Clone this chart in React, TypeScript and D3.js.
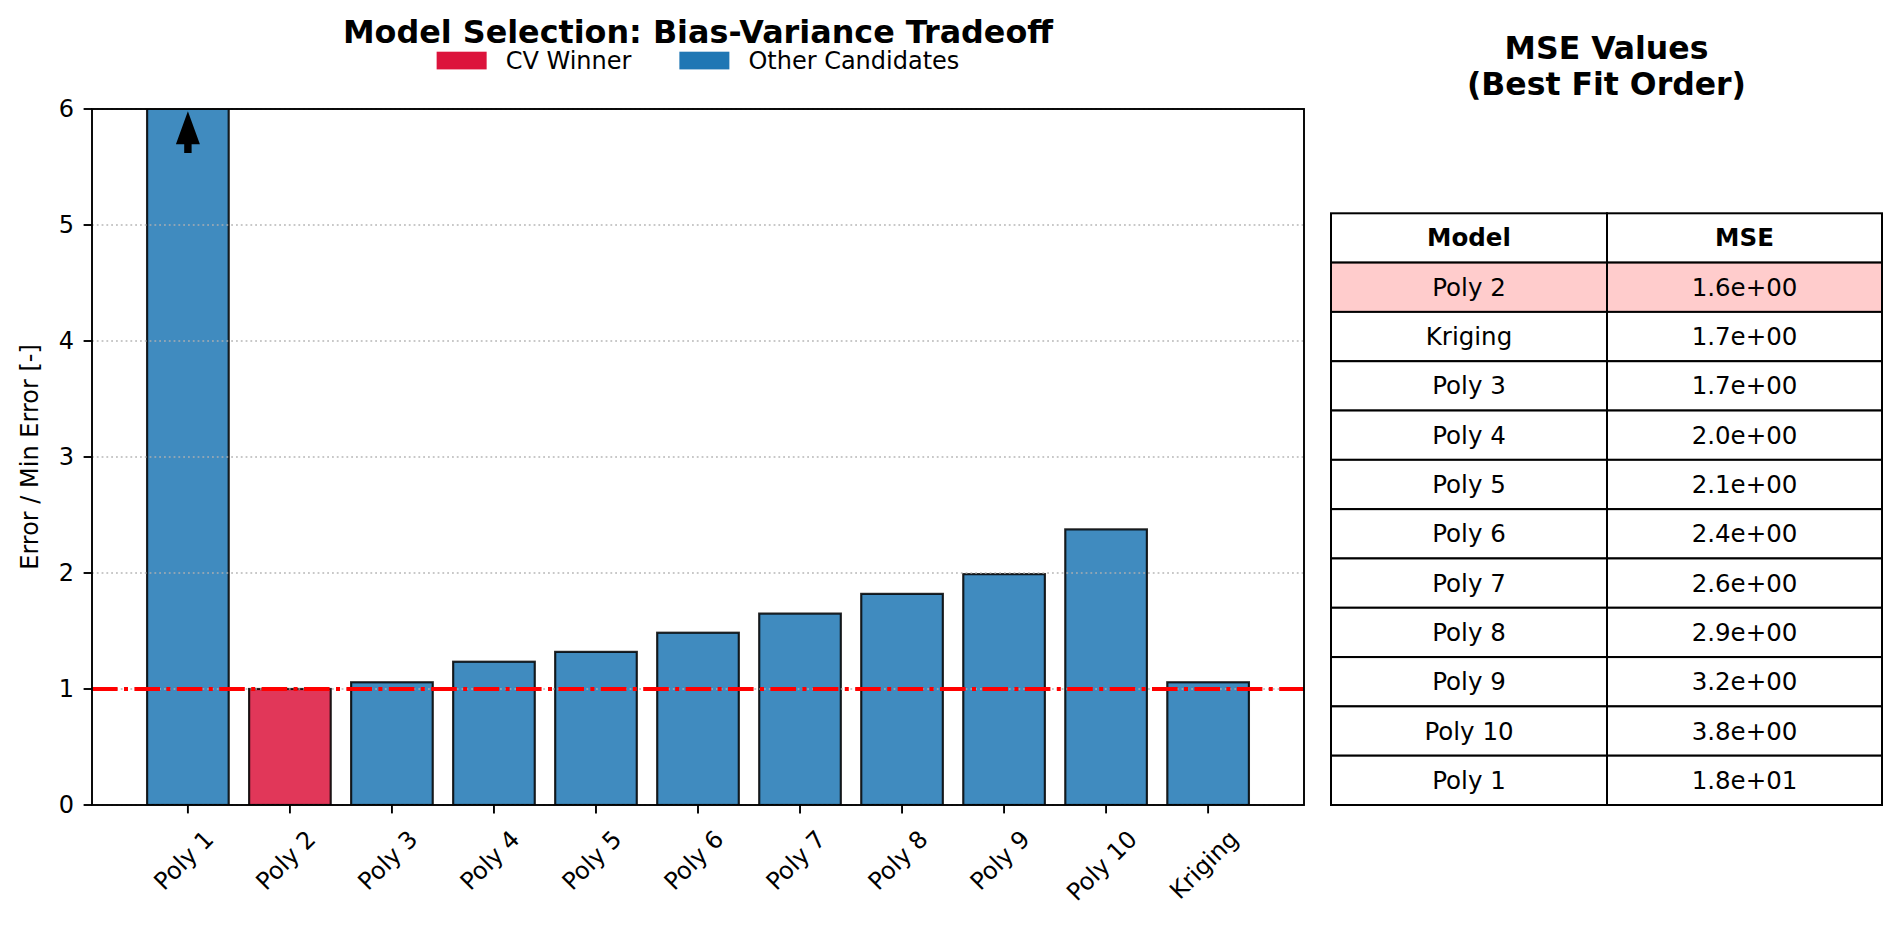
import React, { useEffect, useRef } from "react";
import * as d3 from "d3";

// bar chart: error of each candidate divided by the smallest error
const models = ["Poly 1", "Poly 2", "Poly 3", "Poly 4", "Poly 5", "Poly 6", "Poly 7", "Poly 8", "Poly 9", "Poly 10", "Kriging"];
const errorRatio = [11.25, 1.0, 1.058, 1.235, 1.32, 1.485, 1.65, 1.82, 1.99, 2.376, 1.058];
const winner = "Poly 2";
const yTicks = [0, 1, 2, 3, 4, 5, 6];
const legendLabels = ["CV Winner", "Other Candidates"];
const arrowFrom = 5.6;
const arrowTo = 6.0;

// table on the right, sorted by best fit
const tableHeader = ["Model", "MSE"];
const tableModels = ["Poly 2", "Kriging", "Poly 3", "Poly 4", "Poly 5", "Poly 6", "Poly 7", "Poly 8", "Poly 9", "Poly 10", "Poly 1"];
const tableMse = ["1.6e+00", "1.7e+00", "1.7e+00", "2.0e+00", "2.1e+00", "2.4e+00", "2.6e+00", "2.9e+00", "3.2e+00", "3.8e+00", "1.8e+01"];

const W = 1900;
const H = 930;
const FONT = "'DejaVu Sans', sans-serif";
const RED = "#dc143c";
const BLUE = "#1f77b4";

const App: React.FC = () => {
  const svgRef = useRef<SVGSVGElement | null>(null);

  useEffect(() => {
    if (!svgRef.current) return;
    document.body.style.margin = "0";
    const svg = d3.select(svgRef.current);
    svg.selectAll("*").remove();

    const L = 92, R = 1304, T = 109, B = 805;
    const x = d3.scaleBand<string>().domain(models).range([L, R]).paddingInner(0.2).paddingOuter(0.54);
    const y = d3.scaleLinear().domain([0, 6]).range([B, T]);
    const bw = x.bandwidth();
    const cx = (m: string) => x(m)! + bw / 2;

    svg.append("rect").attr("width", W).attr("height", H).attr("fill", "#fff");

    svg.append("defs").append("clipPath").attr("id", "plot-clip")
      .append("rect").attr("x", L).attr("y", T).attr("width", R - L).attr("height", B - T);

    // bars
    svg.append("g").attr("clip-path", "url(#plot-clip)")
      .selectAll("rect")
      .data(models)
      .join("rect")
      .attr("x", d => x(d)!)
      .attr("width", bw)
      .attr("y", (d, i) => y(errorRatio[i]))
      .attr("height", (d, i) => y(0) - y(errorRatio[i]))
      .attr("fill", d => (d === winner ? RED : BLUE))
      .attr("fill-opacity", 0.85)
      .attr("stroke", "#000")
      .attr("stroke-opacity", 0.85)
      .attr("stroke-width", 2.2);

    // grid sits above the bars, as in matplotlib
    svg.append("g")
      .selectAll("line")
      .data(yTicks)
      .join("line")
      .attr("x1", L).attr("x2", R)
      .attr("y1", d => y(d)).attr("y2", d => y(d))
      .attr("stroke", "#b0b0b0")
      .attr("stroke-opacity", 0.7)
      .attr("stroke-width", 1.8)
      .attr("stroke-dasharray", "1.8,3");

    // reference line at 1
    svg.append("line")
      .attr("x1", L).attr("x2", R)
      .attr("y1", y(1)).attr("y2", y(1))
      .attr("stroke", "#ff0000")
      .attr("stroke-width", 4)
      .attr("stroke-dasharray", "25.6,6.4,4,6.4");

    // frame
    svg.append("rect")
      .attr("x", L).attr("y", T).attr("width", R - L).attr("height", B - T)
      .attr("fill", "none").attr("stroke", "#000").attr("stroke-width", 1.9);

    // arrow for the clipped bar
    const ax = cx(models[0]);
    const shrink = (y(arrowFrom) - y(arrowTo)) * 0.05;
    const tip = y(arrowTo) + shrink;
    const tail = y(arrowFrom) - shrink;
    const headBase = tip + 33;
    svg.append("path")
      .attr("d", [
        [ax, tip], [ax + 12, headBase], [ax + 3.7, headBase], [ax + 3.7, tail],
        [ax - 3.7, tail], [ax - 3.7, headBase], [ax - 12, headBase],
      ].map((p, i) => `${i ? "L" : "M"}${p[0]},${p[1]}`).join("") + "Z")
      .attr("fill", "#000");

    // ticks
    svg.append("g").selectAll("line").data(models).join("line")
      .attr("x1", d => cx(d)).attr("x2", d => cx(d))
      .attr("y1", B).attr("y2", B + 8.4)
      .attr("stroke", "#000").attr("stroke-width", 1.9);
    svg.append("g").selectAll("line").data(yTicks).join("line")
      .attr("x1", L - 8.4).attr("x2", L)
      .attr("y1", d => y(d)).attr("y2", d => y(d))
      .attr("stroke", "#000").attr("stroke-width", 1.9);

    svg.append("g")
      .attr("font-family", FONT).attr("font-size", 24).attr("text-anchor", "end")
      .selectAll("text").data(yTicks).join("text")
      .attr("x", L - 18)
      .attr("y", d => y(d))
      .attr("dominant-baseline", "central")
      .text(d => String(d));

    // rotated x labels, centred under the tick
    const xl = svg.append("g")
      .attr("font-family", FONT).attr("font-size", 24).attr("text-anchor", "middle")
      .selectAll<SVGTextElement, string>("text").data(models).join("text")
      .attr("dominant-baseline", "central")
      .text(d => d);
    xl.each(function (d) {
      const w = this.getComputedTextLength();
      const h = 24 * 1.17;
      const cy = B + 20 + (w + h) / (2 * Math.SQRT2);
      d3.select(this).attr("transform", `translate(${cx(d) - 4},${cy}) rotate(-45)`);
    });

    svg.append("text")
      .attr("font-family", FONT).attr("font-size", 24).attr("text-anchor", "middle")
      .attr("transform", `translate(38,${(T + B) / 2}) rotate(-90)`)
      .text("Error / Min Error [-]");

    // title
    svg.append("text")
      .attr("font-family", FONT).attr("font-size", 31.8).attr("font-weight", "bold")
      .attr("text-anchor", "middle")
      .attr("x", (L + R) / 2).attr("y", 42.5)
      .text("Model Selection: Bias-Variance Tradeoff");

    // legend
    const lg = svg.append("g").attr("font-family", FONT).attr("font-size", 24);
    const handleW = 50, handleH = 17.7, textPad = 19, colGap = 48;
    const widths: number[] = [];
    const items = legendLabels.map((label, i) => {
      const g = lg.append("g");
      g.append("rect").attr("width", handleW).attr("height", handleH)
        .attr("y", 51.7).attr("fill", i === 0 ? RED : BLUE);
      const t = g.append("text").attr("x", handleW + textPad).attr("y", 69).text(label);
      widths.push(handleW + textPad + (t.node() as SVGTextElement).getComputedTextLength());
      return g;
    });
    const total = d3.sum(widths) + colGap * (widths.length - 1);
    let lx = (L + R) / 2 - total / 2;
    items.forEach((g, i) => {
      g.attr("transform", `translate(${lx},0)`);
      lx += widths[i] + colGap;
    });

    // table
    const tx0 = 1331, tx1 = 1607, tx2 = 1882, ty0 = 213.3;
    const rows = tableModels.map((m, i) => [m, tableMse[i]]);
    const rowH = (B - ty0) / (rows.length + 1);
    const colX = [tx0, tx1, tx2];

    svg.append("g")
      .attr("font-family", FONT).attr("font-size", 31.5).attr("font-weight", "bold")
      .attr("text-anchor", "middle")
      .selectAll("text").data(["MSE Values", "(Best Fit Order)"]).join("text")
      .attr("x", (tx0 + tx2) / 2)
      .attr("y", (d, i) => 58.5 + i * 36)
      .text(d => d);

    const tg = svg.append("g").attr("font-family", FONT).attr("font-size", 24.5).attr("text-anchor", "middle");
    const allRows = [tableHeader, ...rows];
    allRows.forEach((row, r) => {
      row.forEach((cell, c) => {
        const ry = ty0 + r * rowH;
        tg.append("rect")
          .attr("x", colX[c]).attr("y", ry)
          .attr("width", colX[c + 1] - colX[c]).attr("height", rowH)
          .attr("fill", r > 0 && row[0] === winner ? "#ffcccc" : "#fff")
          .attr("stroke", "#000").attr("stroke-width", 2);
        tg.append("text")
          .attr("x", (colX[c] + colX[c + 1]) / 2)
          .attr("y", ry + rowH / 2)
          .attr("dominant-baseline", "central")
          .attr("font-weight", r === 0 ? "bold" : "normal")
          .text(cell);
      });
    });
  }, []);

  return <svg ref={svgRef} width={W} height={H} style={{ display: "block" }} />;
};

export default App;
